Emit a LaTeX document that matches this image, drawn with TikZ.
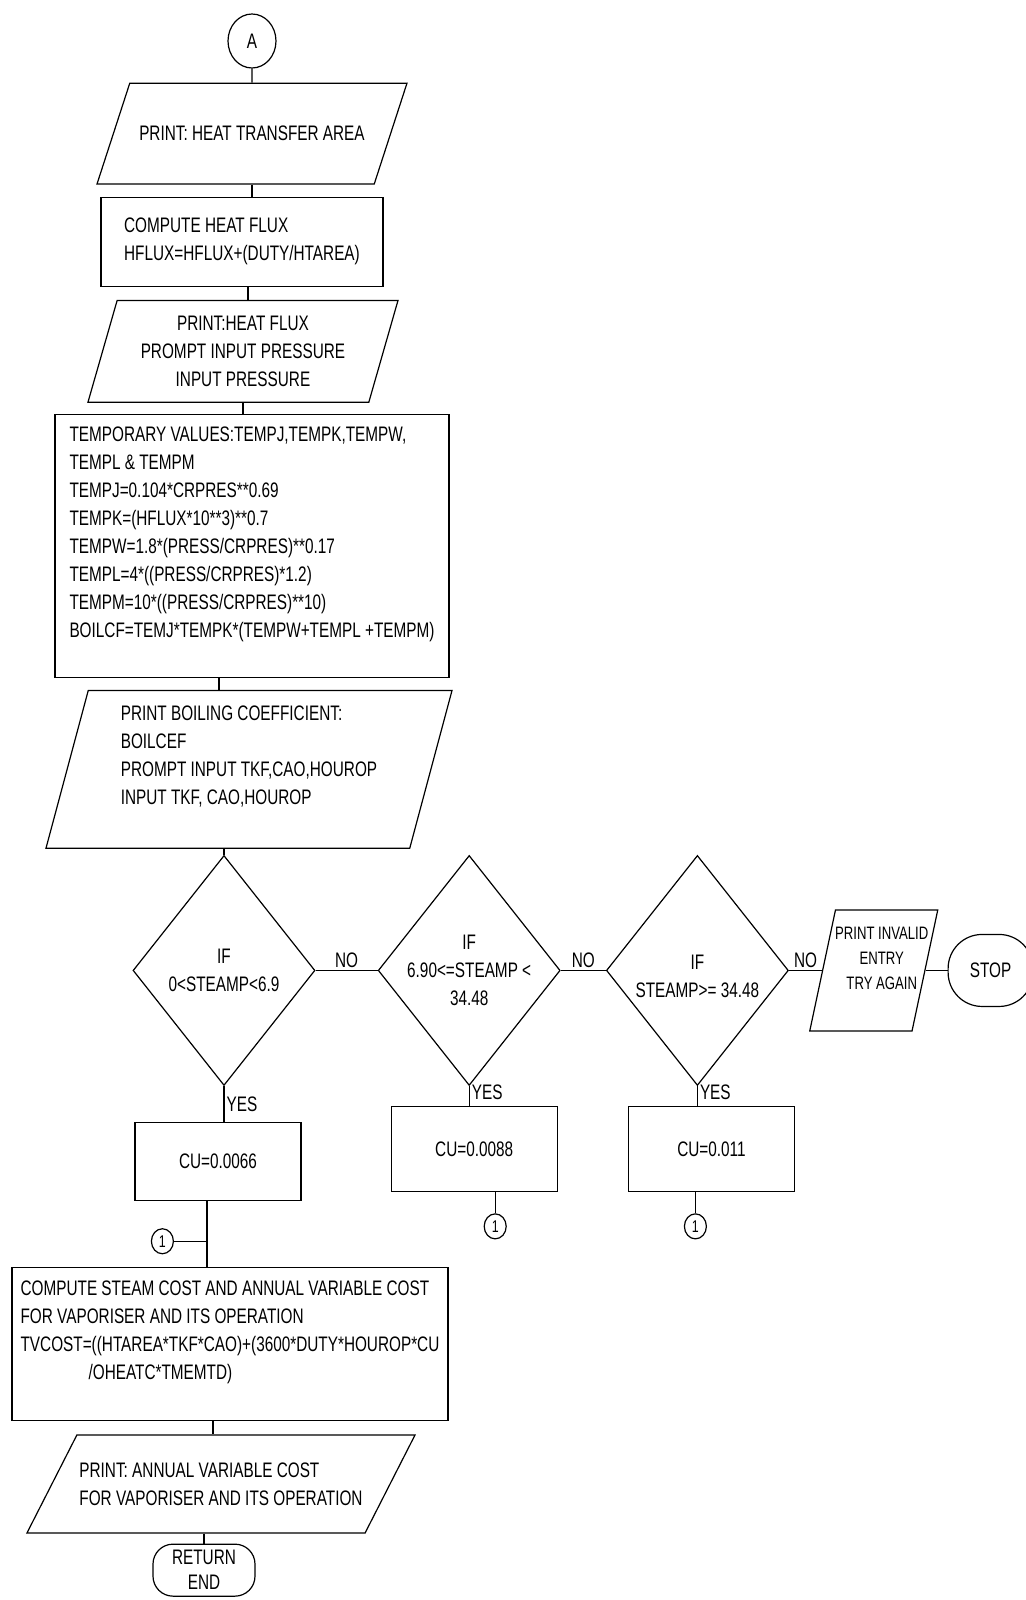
\documentclass[tikz,border=0pt]{standalone}
\usepackage{fontspec}
\setmainfont{Liberation Sans}[FakeStretch=0.73]
\usetikzlibrary{shapes.geometric, positioning}
\tikzstyle{connector} = [ellipse, draw=black, minimum width=24pt, minimum height=27pt, inner sep=0pt]
\tikzstyle{io} = [trapezium, trapezium stretches body=true, trapezium left angle=72, trapezium right angle=108, draw=black, align=center, inner xsep=1pt]
\tikzstyle{process} = [rectangle, draw=black, align=left, inner sep=1pt]
\tikzstyle{decision} = [diamond, draw=black, minimum width=91pt, minimum height=115pt, inner sep=0pt]
\tikzstyle{startstop} = [rectangle, rounded corners=9pt, draw=black, align=center, inner sep=0pt]
\tikzstyle{cubox} = [process, minimum width=83pt, minimum height=42.5pt]
\tikzstyle{offpage} = [ellipse, draw=black, minimum width=11pt, minimum height=12.5pt, inner sep=0pt, font=\fontsize{8.5}{8.5}\selectfont]
\tikzstyle{tag} = [inner sep=1pt]

\begin{document}
\begin{tikzpicture}[x=0.5pt, y=-0.5pt, line width=0.6pt, font=\fontsize{10.5}{14}\selectfont]
        \useasboundingbox (0,0) rectangle (1026,1600);
        % Nodes
        \node (a) [connector] at (252,41) {A};
        \node (p1) [io, inner ysep=21.5pt, minimum width=155pt, minimum height=50pt, below=7pt of a] {PRINT: HEAT TRANSFER AREA};
        \node (b1) [process, minimum width=141pt, minimum height=44.5pt, below=6pt of p1, xshift=-5pt] {COMPUTE HEAT FLUX\\HFLUX=HFLUX+(DUTY/HTAREA)};
        \node (p2) [io, inner ysep=7.75pt, trapezium left angle=74, trapezium right angle=106, minimum width=155pt, minimum height=50.5pt, below=6.5pt of b1, xshift=0.5pt] {PRINT:HEAT FLUX\\PROMPT INPUT PRESSURE\\INPUT PRESSURE};
        \node (b2) [process, minimum width=197pt, minimum height=131.5pt, below=5.5pt of p2, xshift=4.5pt] {TEMPORARY VALUES:TEMPJ,TEMPK,TEMPW,\\TEMPL \& TEMPM\\TEMPJ=0.104*CRPRES**0.69\\TEMPK=(HFLUX*10**3)**0.7\\TEMPW=1.8*(PRESS/CRPRES)**0.17\\TEMPL=4*((PRESS/CRPRES)*1.2)\\TEMPM=10*((PRESS/CRPRES)**10)\\BOILCF=TEMJ*TEMPK*(TEMPW+TEMPL +TEMPM)\\ \mbox{}};
        \node (p3) [io, inner ysep=7.75pt, align=left, trapezium left angle=75, trapezium right angle=105, minimum width=203pt, minimum height=78.5pt, below=6pt of b2, xshift=-1.5pt] {PRINT BOILING COEFFICIENT:\\BOILCEF\\PROMPT INPUT TKF,CAO,HOUROP\\INPUT TKF, CAO,HOUROP\\ \mbox{}};

        \node (d1) [decision, below=3pt of p3, xshift=-12.5pt, label={[align=center]center:IF\\0<STEAMP<6.9}] {};
        \node (d2) [decision, right=31pt of d1, label={[align=center]center:IF\\6.90<=STEAMP <\\34.48}] {};
        \node (d3) [decision, right=22.5pt of d2, label={[align=center, yshift=-3pt]center:IF\\STEAMP>= 34.48}] {};
        \node (p4) [io, inner ysep=30.25pt, inner xsep=0pt, trapezium left angle=78, trapezium right angle=102, minimum width=64pt, minimum height=60.5pt, right=16.5pt of d3, label={[align=center, xshift=4pt, yshift=6pt, font=\fontsize{9}{12.5}\selectfont]center:PRINT INVALID\\ENTRY\\TRY AGAIN}] {};
        \node (stop) [startstop, rounded corners=17pt, minimum width=42.5pt, minimum height=36pt, right=11pt of p4] {STOP};

        \node (cu1) [cubox, minimum height=39pt, below=18pt of d1, xshift=-3pt] {CU=0.0066};
        \node (cu2) [cubox, below=10pt of d2, xshift=2.5pt] {CU=0.0088};
        \node (cu3) [cubox, below=10pt of d3, xshift=7pt] {CU=0.011};
        \node (c2) [offpage, below=10.5pt of cu2, xshift=10.5pt] {1};
        \node (c3) [offpage, below=10.5pt of cu3, xshift=-8pt] {1};

        \node (b3) [process, minimum width=218pt, minimum height=76.5pt, below=33pt of cu1, xshift=6pt] {COMPUTE STEAM COST AND ANNUAL VARIABLE COST\\FOR VAPORISER AND ITS OPERATION\\TVCOST=((HTAREA*TKF*CAO)+(3600*DUTY*HOUROP*CU\\\hspace*{34pt}/OHEATC*TMEMTD)\\ \mbox{}};
        \coordinate (j1) at ([xshift=-5.5pt, yshift=-20pt]cu1.south);
        \node (c1) [offpage, left=16.5pt of j1] {1};
        \node (p5) [io, inner ysep=13.75pt, align=left, trapezium left angle=63, trapezium right angle=117, minimum width=194pt, minimum height=48.5pt, below=6.5pt of b3, xshift=-4.5pt] {PRINT: ANNUAL VARIABLE COST\\FOR VAPORISER AND ITS OPERATION};
        \node (ret) [startstop, rounded corners=10pt, minimum width=51pt, minimum height=26pt, below=5pt of p5, xshift=-8.5pt, font=\fontsize{10.5}{12.5}\selectfont] {RETURN\\END};

        % Connections
        \draw (a) -- (p1);
        \draw (p1.south) -- (p1.south |- b1.north);
        \draw ([xshift=3pt]b1.south) -- ([xshift=3pt]b1.south |- p2.north);
        \draw (p2.south) -- (p2.south |- b2.north);
        \draw ([xshift=-16.5pt]b2.south) -- ([xshift=-16.5pt]b2.south |- p3.north);
        \draw (d1.north |- p3.south) -- (d1.north);
        \draw (d1) -- node[tag, above] {NO} (d2);
        \draw (d2) -- node[tag, above] {NO} (d3);
        \draw (d3) -- node[tag, above] {NO} (p4);
        \draw (p4) -- (stop);
        \draw (d1) -- node[tag, right] {YES} (d1.south |- cu1.north);
        \draw (d2) -- node[tag, right, pos=0.3] {YES} (d2.south |- cu2.north);
        \draw (d3) -- node[tag, right, pos=0.3] {YES} (d3.south |- cu3.north);
        \draw (c2.north |- cu2.south) -- (c2);
        \draw (c3.north |- cu3.south) -- (c3);
        \draw ([xshift=-5.5pt]cu1.south) -- ([xshift=-5.5pt]cu1.south |- b3.north);
        \draw (c1) -- (j1);
        \draw ([xshift=-8.5pt]b3.south) -- ([xshift=-8.5pt]b3.south |- p5.north);
        \draw (ret.north |- p5.south) -- (ret);
    \end{tikzpicture}
\end{document}
